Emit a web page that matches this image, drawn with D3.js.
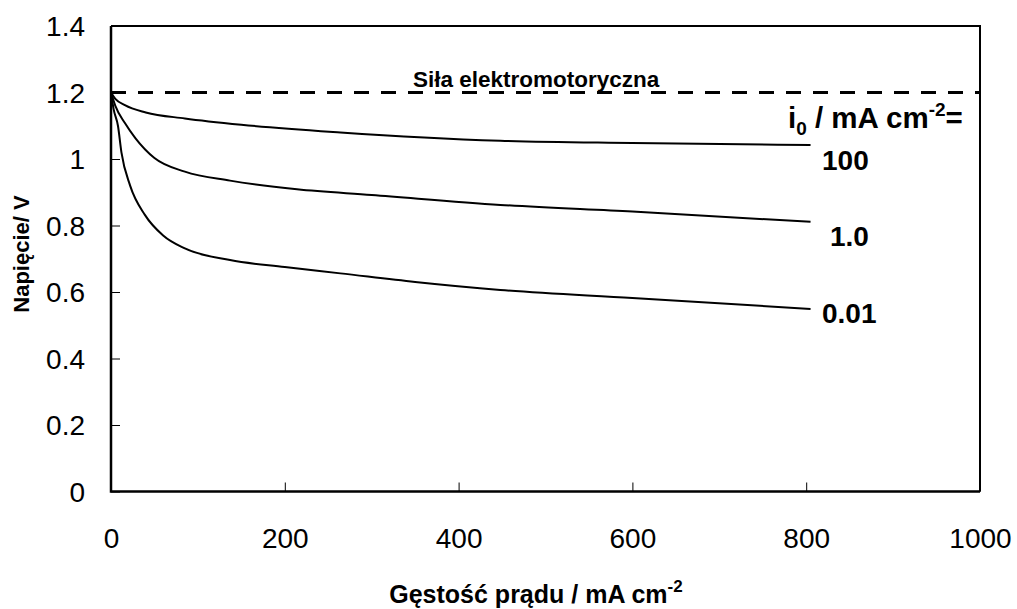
<!DOCTYPE html>
<html>
<head>
<meta charset="utf-8">
<script src="https://cdn.jsdelivr.net/npm/d3@7"></script>
<style>
  html, body { margin: 0; padding: 0; background: #fff; }
  svg { display: block; font-family: Arial, "Liberation Sans", sans-serif; }
</style>
</head>
<body>
<svg id="chart" width="1017" height="609"></svg>
<script>
// Polarisation curves: cell voltage vs current density for three exchange current densities
const emf = 1.2;
const xTicks = [0, 200, 400, 600, 800, 1000];
const yTicks = [0, 0.2, 0.4, 0.6, 0.8, 1, 1.2, 1.4];

const curve100 = [[0, 1.2], [5, 1.181], [16, 1.162], [40, 1.14], [85, 1.122], [150, 1.103],
  [264, 1.080], [448, 1.055], [600, 1.048], [805, 1.042]];
const curve1 = [[0, 1.2], [5, 1.16], [16, 1.108], [28, 1.063], [50, 1.003], [85, 0.962],
  [137, 0.935], [214, 0.909], [300, 0.892], [448, 0.862], [600, 0.842], [805, 0.811]];
const curve001 = [[0, 1.2], [3, 1.15], [8, 1.10], [12, 1.02], [22, 0.92], [39, 0.832],
  [60, 0.77], [85, 0.731], [137, 0.696], [200, 0.675], [264, 0.656], [350, 0.630],
  [448, 0.606], [600, 0.582], [805, 0.549]];
const seriesLabels = ["100", "1.0", "0.01"];

const svg = d3.select("#chart");
const plotL = 111, plotR = 980, plotT = 26, plotB = 491.5;

const x = d3.scaleLinear().domain([0, 1000]).range([plotL, plotR]);
const y = d3.scaleLinear().domain([0, 1.4]).range([plotB, plotT]);

// frame: top and right edges
svg.append("path")
  .attr("d", `M${plotL},${plotT}H${plotR}V${plotB}`)
  .attr("fill", "none").attr("stroke", "#000").attr("stroke-width", 2);

// y axis, ticks pointing inward
const yAxis = svg.append("g").attr("transform", `translate(${plotL},0)`)
  .call(d3.axisRight(y).tickValues(yTicks).tickSize(9).tickFormat(d => String(d)));
yAxis.select(".domain").remove();
yAxis.selectAll(".tick line").attr("stroke", "#000").attr("stroke-width", 1);
yAxis.selectAll(".tick text")
  .attr("x", -26).attr("dy", "0.35em").attr("text-anchor", "end")
  .attr("font-size", 28).attr("fill", "#000");

// x axis, ticks pointing inward
const xAxis = svg.append("g").attr("transform", `translate(0,${plotB})`)
  .call(d3.axisTop(x).tickValues(xTicks).tickSize(9).tickFormat(d => String(d)));
xAxis.select(".domain").remove();
xAxis.selectAll(".tick line").attr("stroke", "#000").attr("stroke-width", 1);
xAxis.selectAll(".tick text")
  .attr("y", 56).attr("dy", 0).attr("text-anchor", "middle")
  .attr("font-size", 28).attr("fill", "#000");

// left and bottom axis lines
svg.append("path")
  .attr("d", `M${plotL},${plotT}V${plotB}H${plotR}`)
  .attr("fill", "none").attr("stroke", "#000").attr("stroke-width", 2.5);

// EMF reference line
svg.append("line")
  .attr("x1", x(0)).attr("x2", x(1000)).attr("y1", y(emf)).attr("y2", y(emf))
  .attr("stroke", "#000").attr("stroke-width", 3).attr("stroke-dasharray", "15,12");

svg.append("text")
  .attr("x", 413).attr("y", y(emf) - 5.5)
  .attr("font-size", 22.5).attr("font-weight", "bold").attr("fill", "#000")
  .text("Siła elektromotoryczna");

// polarisation curves
const line = d3.line().x(d => x(d[0])).y(d => y(d[1])).curve(d3.curveMonotoneX);
[curve100, curve1, curve001].forEach(c => {
  svg.append("path").datum(c)
    .attr("d", line)
    .attr("fill", "none").attr("stroke", "#000").attr("stroke-width", 2);
});

// series labels
const lblY = [170, 246, 323];
const lblX = [822, 830, 822];
seriesLabels.forEach((t, i) => {
  svg.append("text").attr("x", lblX[i]).attr("y", lblY[i])
    .attr("font-size", 28).attr("font-weight", "bold").attr("fill", "#000").text(t);
});

// legend heading: i0 / mA cm-2 =
const head = svg.append("text").attr("x", 788).attr("y", 128)
  .attr("font-size", 29.5).attr("font-weight", "bold").attr("fill", "#000");
head.append("tspan").text("i");
head.append("tspan").attr("font-size", 19).attr("dy", 7).text("0");
head.append("tspan").attr("dy", -7).text(" / mA cm");
head.append("tspan").attr("font-size", 19).attr("dy", -12).text("-2");
head.append("tspan").attr("dy", 12).text("=");

// axis titles
const xt = svg.append("text").attr("x", 536).attr("y", 603).attr("text-anchor", "middle")
  .attr("font-size", 25).attr("font-weight", "bold").attr("fill", "#000");
xt.append("tspan").text("Gęstość prądu / mA cm");
xt.append("tspan").attr("font-size", 17).attr("dy", -11).text("-2");

svg.append("text")
  .attr("transform", "translate(29,254) rotate(-90)")
  .attr("text-anchor", "middle")
  .attr("font-size", 22).attr("font-weight", "bold").attr("fill", "#000")
  .text("Napięcie/ V");
</script>
</body>
</html>
